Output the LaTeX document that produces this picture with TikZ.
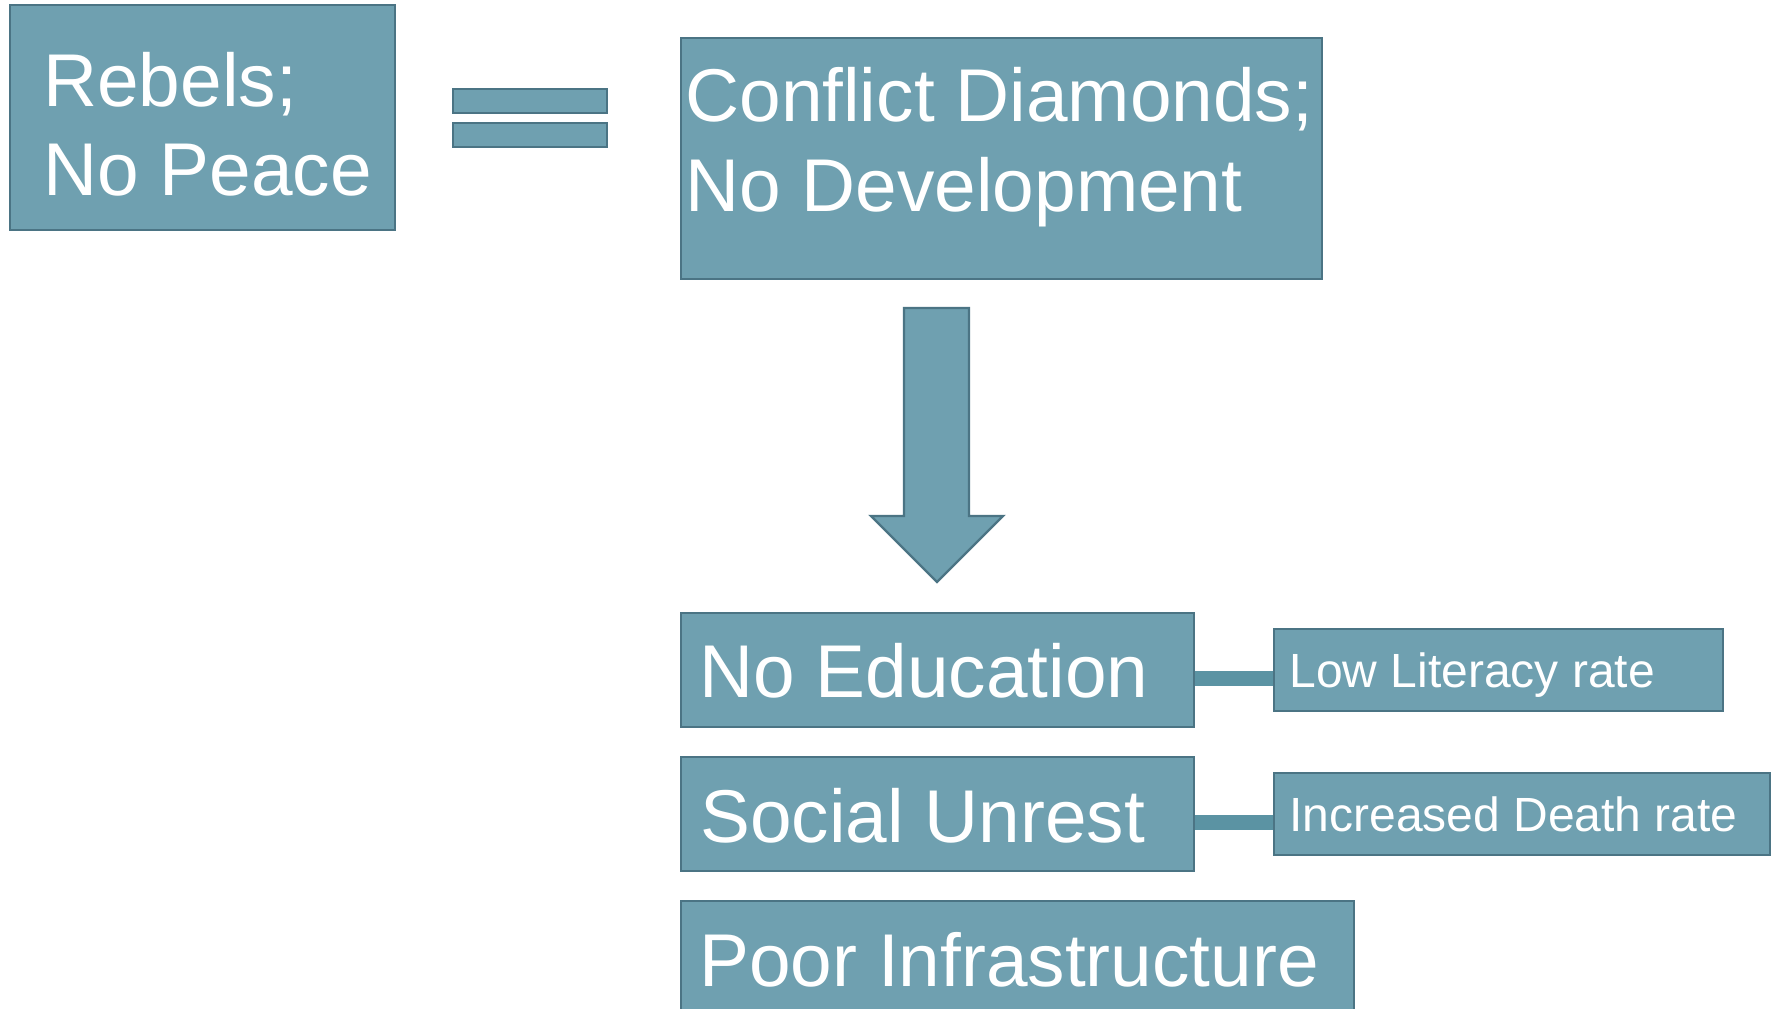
\documentclass[tikz,border=0pt]{standalone}
\usepackage{fontspec}
\setmainfont{Liberation Sans}
\definecolor{boxfill}{HTML}{6FA0B0}
\definecolor{boxline}{HTML}{4B7484}
\definecolor{connfill}{HTML}{5B93A3}
\pgfdeclarelayer{bg}
\pgfsetlayers{bg,main}
\tikzset{
  box/.style={rectangle, fill=boxfill, draw=boxline, line width=1.2pt, inner sep=0pt, anchor=north west},
  bigtxt/.style={text=white, inner sep=0pt, anchor=base west, font=\fontsize{37.4pt}{45pt}\selectfont},
  smalltxt/.style={text=white, inner sep=0pt, anchor=base west, font=\fontsize{24pt}{29pt}\selectfont},
  linkbar/.style={draw=connfill, line width=7.5pt},
}
\begin{document}
\begin{tikzpicture}[x=0.5pt, y=-0.5pt]
\useasboundingbox (0,0) rectangle (1775,1008);
\clip (0,0) rectangle (1775,1008);
\begin{pgfonlayer}{bg}
\fill[white] (0,0) rectangle (1775,1008);
\end{pgfonlayer}
% boxes
\node[box, minimum width=192.5pt, minimum height=112.5pt] (reb) at (9,4) {};
\node[box, minimum width=77pt, minimum height=12pt] (eqa) at (452,88) {};
\node[box, minimum width=77pt, minimum height=12pt] (eqb) at (452,122) {};
\node[box, minimum width=320.5pt, minimum height=120.5pt] (conf) at (680,37) {};
\node[box, minimum width=256.5pt, minimum height=57pt] (edu) at (680,612) {};
\node[box, minimum width=224.5pt, minimum height=41pt] (lit) at (1273,628) {};
\node[box, minimum width=256.5pt, minimum height=57pt] (soc) at (680,756) {};
\node[box, minimum width=248pt, minimum height=41pt] (death) at (1273,772) {};
\node[box, minimum width=336.5pt, minimum height=70pt] (poor) at (680,900) {};
% connectors
\begin{pgfonlayer}{bg}
\draw[linkbar] ([yshift=-4pt]edu.east) -- ([yshift=-4pt]lit.west);
\draw[linkbar] ([yshift=-4pt]soc.east) -- ([yshift=-4pt]death.west);
\end{pgfonlayer}
% block arrow
\draw[fill=boxfill, draw=boxline, line width=1.2pt, line join=miter]
  (904,308) -- (969,308) -- (969,516) -- (1003,516) -- (937,582) -- (871,516) -- (904,516) -- cycle;
% texts
\node[bigtxt] (t1) at (43,106) {Rebels;};
\node[bigtxt] (t2) at (43,195) {No Peace};
\node[bigtxt] (t3) at (685,121) {Conflict Diamonds;};
\node[bigtxt] (t4) at (685,211) {No Development};
\node[bigtxt] (t5) at (699,697) {No Education};
\node[bigtxt] (t6) at (700,842) {Social Unrest};
\node[bigtxt] (t7) at (699,986) {Poor Infrastructure};
\node[smalltxt] (t8) at (1289,687) {Low Literacy rate};
\node[smalltxt] (t9) at (1289,831) {Increased Death rate};
\end{tikzpicture}
\end{document}
